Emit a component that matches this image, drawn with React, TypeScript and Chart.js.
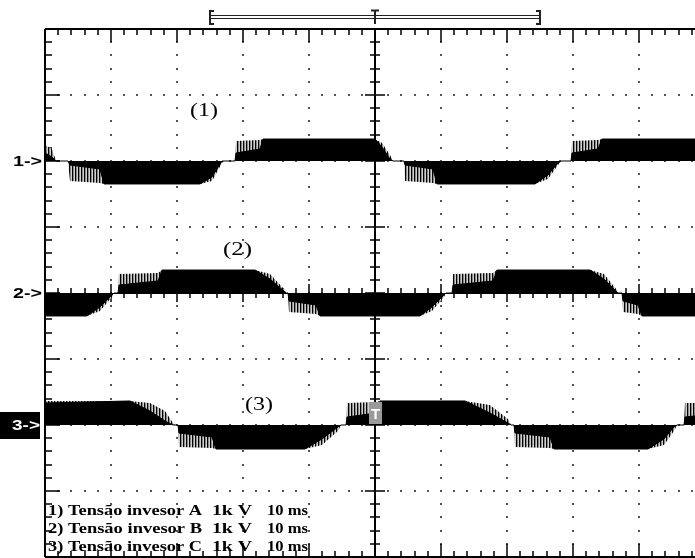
import React, { useEffect, useRef } from "react";
import { Chart, registerables } from "chart.js";

Chart.register(...registerables);

// ---- Data (time in ms, voltage in V; 10 ms/div, 1 kV/div) ----
const ch1Time = [0, 1.06, 1.67, 3.48, 3.79, 8.33, 8.94, 23.48, 25.3, 26.82, 27.12, 28.79, 28.94, 32.58, 33.03, 50.0, 51.06, 52.27, 52.73, 54.39, 54.55, 58.79, 59.39, 74.24, 76.21, 77.73, 78.18, 79.7, 79.85, 83.79, 84.39, 100];
const ch1Dense = [121, 61, 0, 0, -61, -121, -348, -348, -242, 0, 0, 0, 121, 182, 333, 333, 212, 30, 0, 0, -61, -121, -348, -348, -212, -30, 0, 0, 121, 182, 333, 333];
const ch1Sparse = [242, 182, 0, 0, -303, -333, -348, -348, -303, -30, 0, 0, 303, 318, 333, 333, 273, 91, 0, 0, -303, -333, -348, -348, -273, -61, 0, 0, 303, 318, 333, 333];

const ch2Time = [0, 6.36, 8.33, 10.15, 10.45, 11.06, 11.21, 17.12, 17.73, 31.82, 34.09, 36.21, 36.52, 36.82, 36.97, 41.06, 41.67, 56.82, 58.64, 60.45, 60.76, 61.67, 61.82, 67.88, 68.48, 82.58, 84.7, 86.52, 86.82, 87.42, 87.58, 89.85, 90.45, 100];
const ch2Dense = [-348, -348, -212, -30, 0, 0, 121, 182, 348, 348, 212, 30, 0, 0, -121, -182, -348, -348, -212, -30, 0, 0, 121, 182, 348, 348, 212, 30, 0, 0, -121, -182, -348, -348];
const ch2Sparse = [-348, -348, -273, -61, 0, 0, 288, 303, 348, 348, 288, 61, 0, 0, -288, -318, -348, -348, -273, -61, 0, 0, 288, 303, 348, 348, 288, 61, 0, 0, -288, -318, -348, -348];

const ch3Time = [0, 12.88, 15.91, 18.18, 19.39, 19.7, 20.15, 20.3, 25.3, 25.91, 39.39, 41.97, 44.39, 44.85, 45.61, 45.76, 50.15, 50.76, 63.64, 67.42, 70.15, 70.61, 71.06, 71.21, 76.52, 77.12, 91.36, 93.79, 95.3, 95.76, 96.82, 96.97, 100];
const ch3Dense = [333, 364, 212, 61, 0, 0, 0, -121, -182, -364, -364, -212, -30, 0, 0, 121, 182, 364, 364, 182, 30, 0, 0, -121, -182, -364, -364, -212, -30, 0, 0, 121, 152];
const ch3Sparse = [364, 364, 333, 212, 30, 0, 0, -333, -348, -364, -364, -303, -91, 0, 0, 333, 348, 364, 364, 303, 91, 0, 0, -333, -348, -364, -364, -303, -91, 0, 0, 333, 333];

const channelOffsets = [2, 0, -2]; // divisions
const channelMarks = ["1->", "2->", "3->"];
const traceLabels = ["(1)", "(2)", "(3)"];
const legendNames = ["1) Tensão invesor A", "2) Tensão invesor B", "3) Tensão invesor C"];
const legendScale = "1k V";
const legendTime = "10 ms";

const xMajor = [0, 10, 20, 30, 40, 50, 60, 70, 80, 90, 100];
const yMajor = [-4, -3, -2, -1, 0, 1, 2, 3, 4];
const bracketStart = 25;
const bracketEnd = 75;
const triggerTime = 50;

function makePattern(): CanvasPattern | string {
  const c = document.createElement("canvas");
  c.width = 3;
  c.height = 1;
  const g = c.getContext("2d");
  if (!g) return "#888";
  g.fillStyle = "#000";
  g.fillRect(0, 0, 1, 1);
  g.fillStyle = "#8a8a8a";
  g.fillRect(1, 0, 1, 1);
  g.fillStyle = "#d0d0d0";
  g.fillRect(2, 0, 1, 1);
  const p = g.createPattern(c, "repeat");
  return p || "#888";
}

function fitText(ctx: CanvasRenderingContext2D, text: string, x: number, yc: number, width: number, font: string, color: string) {
  ctx.save();
  ctx.font = font;
  ctx.fillStyle = color;
  ctx.textBaseline = "middle";
  ctx.textAlign = "left";
  const w = ctx.measureText(text).width;
  ctx.translate(x, yc);
  ctx.scale(width / w, 1);
  ctx.fillText(text, 0, 0);
  ctx.restore();
}

const scopePlugin = {
  id: "scope",
  beforeDatasetsDraw(chart: any) {
    const { ctx, chartArea: a, scales } = chart;
    const x = scales.x;
    const y = scales.y;
    ctx.save();
    // dotted grid
    ctx.fillStyle = "#555";
    for (let i = 1; i < xMajor.length - 1; i++) {
      if (xMajor[i] === triggerTime) continue;
      const px = Math.round(x.getPixelForValue(xMajor[i]));
      for (let k = 1; k < 40; k++) {
        const py = Math.round(y.getPixelForValue(-4 + k * 0.2));
        ctx.fillRect(px - 1, py - 1, 2, 2);
      }
    }
    for (let j = 1; j < yMajor.length - 1; j++) {
      if (yMajor[j] === 0) continue;
      const py = Math.round(y.getPixelForValue(yMajor[j]));
      for (let k = 1; k < 50; k++) {
        const px = Math.round(x.getPixelForValue(k * 2));
        ctx.fillRect(px - 1, py - 1, 2, 2);
      }
    }
    ctx.strokeStyle = "#000";
    // borders
    ctx.lineWidth = 2;
    ctx.beginPath();
    ctx.moveTo(a.left, a.top);
    ctx.lineTo(a.right, a.top);
    ctx.moveTo(a.left, a.top);
    ctx.lineTo(a.left, a.bottom);
    ctx.moveTo(a.left, a.bottom);
    ctx.lineTo(a.right, a.bottom);
    // centre axes
    const cx = Math.round(x.getPixelForValue(triggerTime));
    const cy = Math.round(y.getPixelForValue(0));
    ctx.moveTo(cx, a.top);
    ctx.lineTo(cx, a.bottom);
    ctx.stroke();
    ctx.lineWidth = 1;
    ctx.beginPath();
    ctx.moveTo(a.left, cy + 0.5);
    ctx.lineTo(a.right, cy + 0.5);
    ctx.stroke();
    // ticks
    ctx.lineWidth = 1.5;
    ctx.beginPath();
    for (let k = 1; k < 50; k++) {
      const px = Math.round(x.getPixelForValue(k * 2));
      const major = k % 5 === 0;
      ctx.moveTo(px, a.top);
      ctx.lineTo(px, a.top + (major ? 13 : 6));
      ctx.moveTo(px, a.bottom);
      ctx.lineTo(px, a.bottom - (major ? 13 : 6));
      ctx.moveTo(px, cy - (major ? 9 : 5));
      ctx.lineTo(px, cy + (major ? 9 : 5));
    }
    for (let k = 1; k < 40; k++) {
      const py = Math.round(y.getPixelForValue(-4 + k * 0.2));
      const major = k % 5 === 0;
      ctx.moveTo(a.left, py);
      ctx.lineTo(a.left + (major ? 15 : 7), py);
      ctx.moveTo(cx - (major ? 10 : 5), py);
      ctx.lineTo(cx + (major ? 10 : 5), py);
    }
    ctx.stroke();
    ctx.restore();
  },
  afterDatasetsDraw(chart: any) {
    const { ctx, scales } = chart;
    const x = scales.x;
    const y = scales.y;
    ctx.save();
    // top bracket
    const bx0 = Math.round(x.getPixelForValue(bracketStart));
    const bx1 = Math.round(x.getPixelForValue(bracketEnd));
    const tx = Math.round(x.getPixelForValue(triggerTime));
    ctx.strokeStyle = "#222";
    ctx.lineWidth = 1;
    ctx.beginPath();
    ctx.moveTo(bx0, 15.5);
    ctx.lineTo(bx1, 15.5);
    ctx.moveTo(bx0, 18.5);
    ctx.lineTo(bx1, 18.5);
    ctx.stroke();
    ctx.lineWidth = 2;
    ctx.beginPath();
    ctx.moveTo(bx0 + 4, 11);
    ctx.lineTo(bx0, 11);
    ctx.lineTo(bx0, 24);
    ctx.lineTo(bx0 + 4, 24);
    ctx.moveTo(bx1 - 4, 11);
    ctx.lineTo(bx1, 11);
    ctx.lineTo(bx1, 24);
    ctx.lineTo(bx1 - 4, 24);
    ctx.moveTo(tx, 10);
    ctx.lineTo(tx, 24);
    ctx.moveTo(tx - 4, 10.5);
    ctx.lineTo(tx + 4, 10.5);
    ctx.stroke();

    // channel markers
    const sans = "bold 15px 'Liberation Sans', Arial, sans-serif";
    for (let i = 0; i < 3; i++) {
      const py = y.getPixelForValue(channelOffsets[i]);
      if (i === 2) {
        ctx.fillStyle = "#000";
        ctx.fillRect(0, py - 13, 40, 27);
        fitText(ctx, channelMarks[i], 12, py + 1, 28, sans, "#fff");
      } else {
        fitText(ctx, channelMarks[i], 13, py + 1, 29, sans, "#000");
      }
    }

    // trigger level marker on channel 3
    const t3y = y.getPixelForValue(channelOffsets[2]);
    ctx.fillStyle = "#9a9a9a";
    ctx.fillRect(tx - 6, t3y - 23, 13, 22);
    ctx.fillStyle = "#fff";
    ctx.font = "bold 15px 'Liberation Sans', Arial, sans-serif";
    ctx.textAlign = "center";
    ctx.textBaseline = "middle";
    ctx.fillText("T", tx + 0.5, t3y - 10);

    // trace labels
    const serif = "18px 'Liberation Serif', 'Times New Roman', serif";
    const lblPos = [
      [190, 111, 28],
      [223, 250, 29],
      [245, 405, 28],
    ];
    for (let i = 0; i < 3; i++) {
      fitText(ctx, traceLabels[i], lblPos[i][0], lblPos[i][1], lblPos[i][2], serif, "#000");
    }

    // legend
    const lf = "bold 15px 'Liberation Serif', 'Times New Roman', serif";
    const ly = [511, 529, 547];
    for (let i = 0; i < 3; i++) {
      fitText(ctx, legendNames[i], 48, ly[i], 154, lf, "#000");
      fitText(ctx, legendScale, 212, ly[i], 40, lf, "#000");
      fitText(ctx, legendTime, 267, ly[i], 41, lf, "#000");
    }
    ctx.restore();
  },
};

export default function App() {
  const ref = useRef<HTMLCanvasElement | null>(null);
  useEffect(() => {
    document.documentElement.style.overflow = "hidden";
    document.body.style.overflow = "hidden";
    const canvas = ref.current;
    if (!canvas) return;
    const pattern = makePattern();
    const series = [
      { t: ch1Time, d: ch1Dense, s: ch1Sparse },
      { t: ch2Time, d: ch2Dense, s: ch2Sparse },
      { t: ch3Time, d: ch3Dense, s: ch3Sparse },
    ];
    const datasets: any[] = [];
    series.forEach((ch, i) => {
      const off = channelOffsets[i];
      datasets.push({
        label: `dense${i + 1}`,
        data: ch.t.map((t, k) => ({ x: t, y: off + ch.d[k] / 1000 })),
        borderColor: "#000",
        backgroundColor: "#000",
        borderWidth: 1,
        pointRadius: 0,
        tension: 0,
        fill: { value: off },
        order: 0,
      });
      datasets.push({
        label: `sparse${i + 1}`,
        data: ch.t.map((t, k) => ({ x: t, y: off + ch.s[k] / 1000 })),
        borderColor: "rgba(0,0,0,0)",
        backgroundColor: pattern,
        borderWidth: 0,
        pointRadius: 0,
        tension: 0,
        fill: { value: off },
        order: 1,
      });
    });
    const chart = new Chart(canvas, {
      type: "line",
      data: { datasets },
      options: {
        animation: false,
        responsive: false,
        devicePixelRatio: 1,
        layout: { padding: { left: 45, top: 29, right: 8, bottom: 1 } },
        plugins: { legend: { display: false }, tooltip: { enabled: false } },
        events: [],
        scales: {
          x: { type: "linear", min: 0, max: 100, display: false },
          y: { type: "linear", min: -4, max: 4, display: false },
        },
      },
      plugins: [scopePlugin],
    } as any);
    return () => chart.destroy();
  }, []);
  return (
    <div style={{ position: "fixed", left: 0, top: 0, width: 713, height: 558, background: "#fff" }}>
      <canvas ref={ref} width={713} height={558} style={{ display: "block" }} />
    </div>
  );
}
